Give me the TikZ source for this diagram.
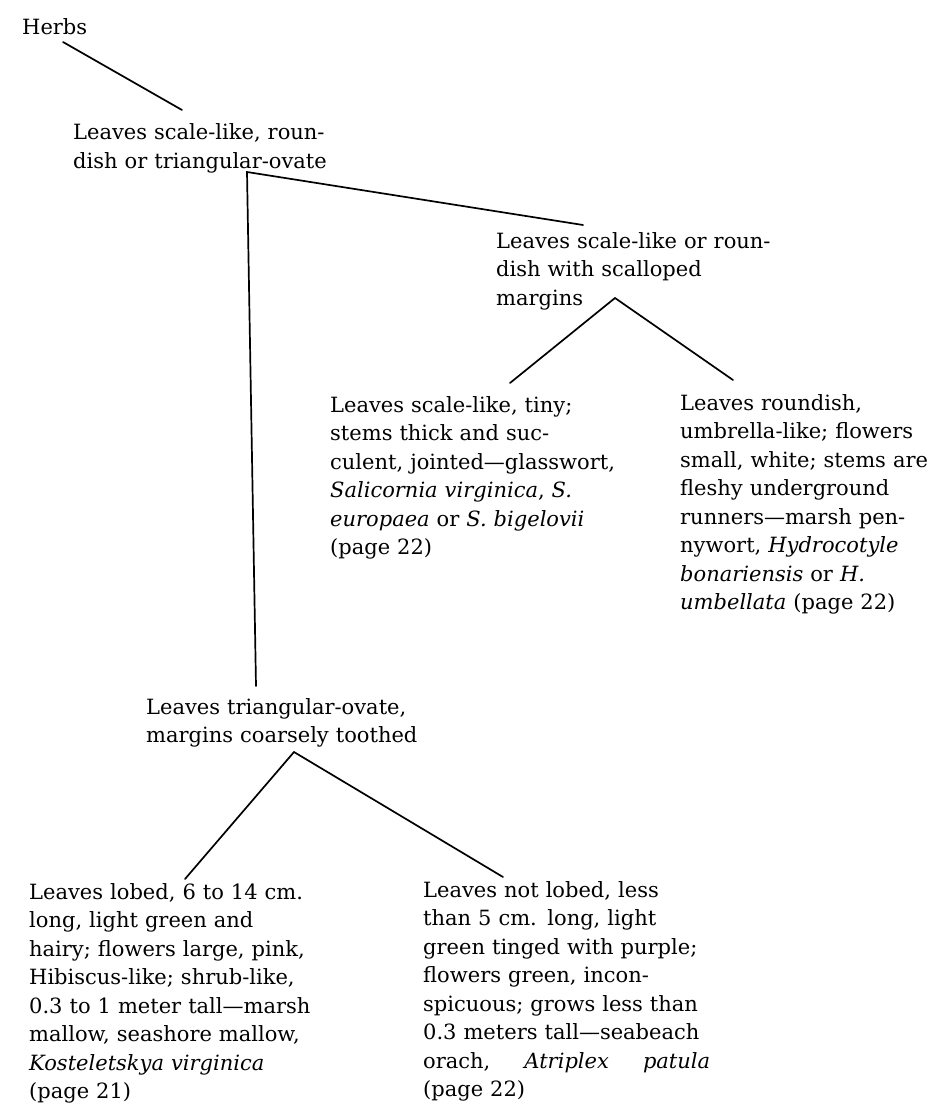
\documentclass[tikz,border=0pt]{standalone}
\usepackage{fontspec}
\setmainfont{DejaVu Serif}
\tikzset{
  keytext/.style={
    anchor=base west,
    inner sep=0pt,
    text width=#1,
    font=\fontsize{21}{28.5}\selectfont
  },
  keytext/.default=300pt,
  keyline/.style={
    line width=1.7pt,
    line cap=round
  }
}

\begin{document}
\begin{tikzpicture}[x=1pt,y=-1pt]
  \useasboundingbox (0,0) rectangle (951,1118);
  % text of the key
  \node[keytext] (herbs) at (22,35) {Herbs};
  \node[keytext] (q1) at (73,140) {Leaves scale-like, roun-\\dish or triangular-ovate};
  \node[keytext] (q2) at (496,248) {Leaves scale-like or roun-\\dish with scalloped\\margins};
  \node[keytext] (salic) at (330,412) {Leaves scale-like, tiny;\\stems thick and suc-\\culent, jointed---glasswort,\\\emph{Salicornia virginica}, \emph{S.}\\\emph{europaea} or \emph{S. bigelovii}\\(page 22)};
  \node[keytext=270pt] (hydro) at (680,410) {Leaves roundish,\\umbrella-like; flowers\\small, white; stems are\\fleshy underground\\runners---marsh pen-\\nywort, \emph{Hydrocotyle}\\\emph{bonariensis} or \emph{H.}\\\emph{umbellata} (page 22)};
  \node[keytext] (q3) at (146,714) {Leaves triangular-ovate,\\margins coarsely toothed};
  \node[keytext] (kost) at (29,899) {Leaves lobed, 6 to 14 cm.\\long, light green and\\hairy; flowers large, pink,\\Hibiscus-like; shrub-like,\\0.3 to 1 meter tall---marsh\\mallow, seashore mallow,\\\emph{Kosteletskya virginica}\\(page 21)};
  \node[keytext=300pt] (atrip) at (423,897) {Leaves not lobed, less\\than 5 cm. long, light\\green tinged with purple;\\flowers green, incon-\\spicuous; grows less than\\0.3 meters tall---seabeach\\\leavevmode\hbox to 287pt{orach,\hfill\emph{Atriplex}\hfill\emph{patula}}\\(page 22)};
  % ends of the lines
  \coordinate (h0) at (63,42);
  \coordinate (h1) at (182,110);
  \coordinate (fork1) at (247,172);
  \coordinate (q2in) at (583,225);
  \coordinate (q3in) at (256,686);
  \coordinate (fork2) at (615,298);
  \coordinate (salicin) at (510,383);
  \coordinate (hydroin) at (733,380);
  \coordinate (fork3) at (294,752);
  \coordinate (kostin) at (185,879);
  \coordinate (atripin) at (503,877);
  \draw[keyline] (h0) -- (h1);
  \draw[keyline] (q2in) -- (fork1) -- (q3in);
  \foreach \x in {salicin,hydroin}{
    \draw[keyline] (fork2) -- (\x);
  }
  \foreach \x in {kostin,atripin}{
    \draw[keyline] (fork3) -- (\x);
  }
\end{tikzpicture}
\end{document}
